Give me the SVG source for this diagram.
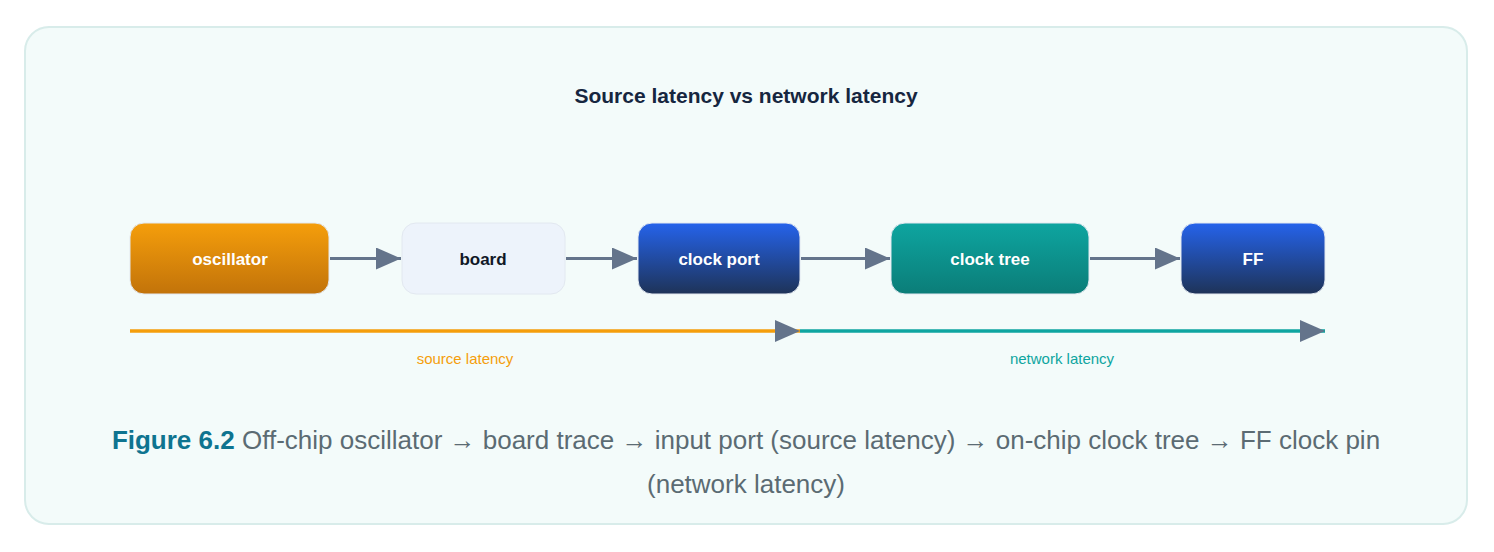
<svg xmlns="http://www.w3.org/2000/svg" width="1494" height="552" viewBox="0 0 1494 552">
<style>
.n{font-family:"Liberation Sans",Arial,sans-serif;font-size:17px;font-weight:bold;fill:#fff;text-anchor:middle}
.c{stroke:#64748b;stroke-width:3;fill:none}
.lab{font-family:"Liberation Sans",Arial,sans-serif;font-size:15px;text-anchor:middle}
</style>
<defs>
<linearGradient id="go" x1="0" y1="0" x2="0" y2="1"><stop offset="0" stop-color="#f59e0b"/><stop offset="1" stop-color="#c2730a"/></linearGradient>
<linearGradient id="gb" x1="0" y1="0" x2="0" y2="1"><stop offset="0" stop-color="#2563eb"/><stop offset="1" stop-color="#1e3358"/></linearGradient>
<linearGradient id="gt" x1="0" y1="0" x2="0" y2="1"><stop offset="0" stop-color="#0ea5a0"/><stop offset="1" stop-color="#0b7d78"/></linearGradient>
<marker id="a" viewBox="0 0 10 10" refX="10" refY="5" markerWidth="8" markerHeight="8" markerUnits="userSpaceOnUse" orient="auto"><path d="M0,0L10,5L0,10z" fill="#64748b"/></marker>
<marker id="big" viewBox="0 0 10 10" refX="10" refY="5" markerWidth="25" markerHeight="22" markerUnits="userSpaceOnUse" orient="auto" preserveAspectRatio="none"><path d="M0,0L10,5L0,10z" fill="#64748b"/></marker>
</defs>
<rect x="25" y="27" width="1442" height="497" rx="24" fill="#f3fbfa" stroke="#d8ecea" stroke-width="2"/>
<text x="746" y="103" font-family="'Liberation Sans',Arial,sans-serif" font-size="21" font-weight="bold" fill="#16263f" text-anchor="middle">Source latency vs network latency</text>
<g id="oscillator"><rect x="130" y="223" width="199" height="71" rx="14" fill="url(#go)" stroke="#e2e8f0"/><text class="n" x="230" y="265">oscillator</text></g>
<g id="board"><rect x="402" y="223" width="163" height="71" rx="14" fill="#edf3fb" stroke="#e2e8f0"/><text class="n" x="483" y="265" style="fill:#111827">board</text></g>
<g id="clockport"><rect x="638" y="223" width="162" height="71" rx="14" fill="url(#gb)" stroke="#e2e8f0"/><text class="n" x="719" y="265">clock port</text></g>
<g id="clocktree"><rect x="891" y="223" width="198" height="71" rx="14" fill="url(#gt)" stroke="#e2e8f0"/><text class="n" x="990" y="265">clock tree</text></g>
<g id="ff"><rect x="1181" y="223" width="144" height="71" rx="14" fill="url(#gb)" stroke="#e2e8f0"/><text class="n" x="1253" y="265">FF</text></g>
<g id="connectors">
<line class="c" x1="330" y1="258.5" x2="401" y2="258.5" marker-end="url(#big)"/>
<line class="c" x1="566" y1="258.5" x2="637" y2="258.5" marker-end="url(#big)"/>
<line class="c" x1="801" y1="258.5" x2="890" y2="258.5" marker-end="url(#big)"/>
<line class="c" x1="1090" y1="258.5" x2="1180" y2="258.5" marker-end="url(#big)"/>
<line x1="130" y1="331" x2="800" y2="331" stroke="#f59e0b" stroke-width="3.5" marker-end="url(#big)"/>
<line x1="800" y1="331" x2="1325" y2="331" stroke="#0ea5a0" stroke-width="3.5" marker-end="url(#big)"/>
</g>
<text class="lab" x="465" y="364" fill="#f59e0b">source latency</text>
<text class="lab" x="1062" y="364" fill="#0ea5a0">network latency</text>
<text x="746" y="449" font-family="'Liberation Sans',Arial,sans-serif" font-size="26" fill="#5b6b73" text-anchor="middle"><tspan font-weight="bold" fill="#0e7490">Figure 6.2</tspan>  Off-chip oscillator → board trace → input port (source latency) → on-chip clock tree → FF clock pin</text>
<text x="746" y="493" font-family="'Liberation Sans',Arial,sans-serif" font-size="26" fill="#5b6b73" text-anchor="middle">(network latency)</text>
</svg>
